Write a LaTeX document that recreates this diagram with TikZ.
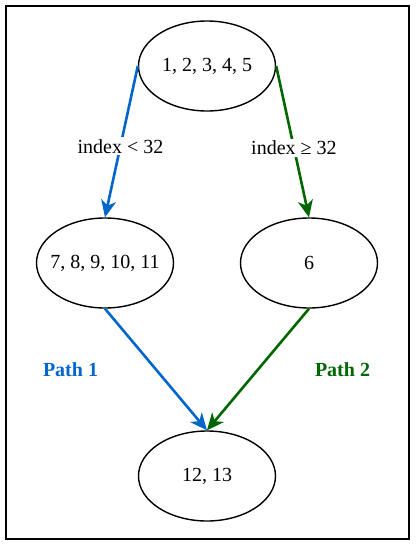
\documentclass[tikz,border=0pt]{standalone}
\usepackage{fontspec}
\setmainfont{Liberation Serif}
\usetikzlibrary{arrows.meta,shapes.geometric}
\definecolor{pathblue}{HTML}{0066CC}
\definecolor{pathgreen}{HTML}{006600}
\begin{document}
\begin{tikzpicture}[x=1pt,y=-1pt,
  blk/.style={draw=black,line width=1.4pt,ellipse,minimum width=137pt,minimum height=90pt,inner xsep=-25pt,inner ysep=0pt,font=\fontsize{20}{24}\selectfont},
  edgeb/.style={draw=pathblue,line width=2.6pt,-{Stealth[length=17pt,width=15pt,inset=5pt]}},
  edgeg/.style={draw=pathgreen,line width=2.6pt,-{Stealth[length=17pt,width=15pt,inset=5pt]}},
  lbl/.style={fill=white,inner sep=2pt,font=\fontsize{20}{24}\selectfont},
  pathlbl/.style={font=\fontsize{20}{24}\selectfont\bfseries}
]
\useasboundingbox (0,0) rectangle (415,546);
\node[draw=black,line width=1.5pt,minimum width=403pt,minimum height=533pt,inner sep=0pt] (frame) at (207.5,272.5) {};
\node[blk] (top) at (207,66) {1, 2, 3, 4, 5};
\node[blk] (left) at (105,263) {7, 8, 9, 10, 11};
\node[blk] (right) at (309,263) {6};
\node[blk] (bot) at (207,476) {12, 13};
\draw[edgeb] (top.west) -- node[lbl,pos=0.53] (l1) {index < 32} (left.north);
\draw[edgeg] (top.east) -- node[lbl,pos=0.54] (l2) {index ≥ 32} (right.north);
\draw[edgeb] (left.south) -- (bot.north);
\draw[edgeg] (right.south) -- (bot.north);
\node[pathlbl,text=pathblue] (p1) at (70.5,370) {Path 1};
\node[pathlbl,text=pathgreen] (p2) at (342.5,370) {Path 2};
\end{tikzpicture}
\end{document}
